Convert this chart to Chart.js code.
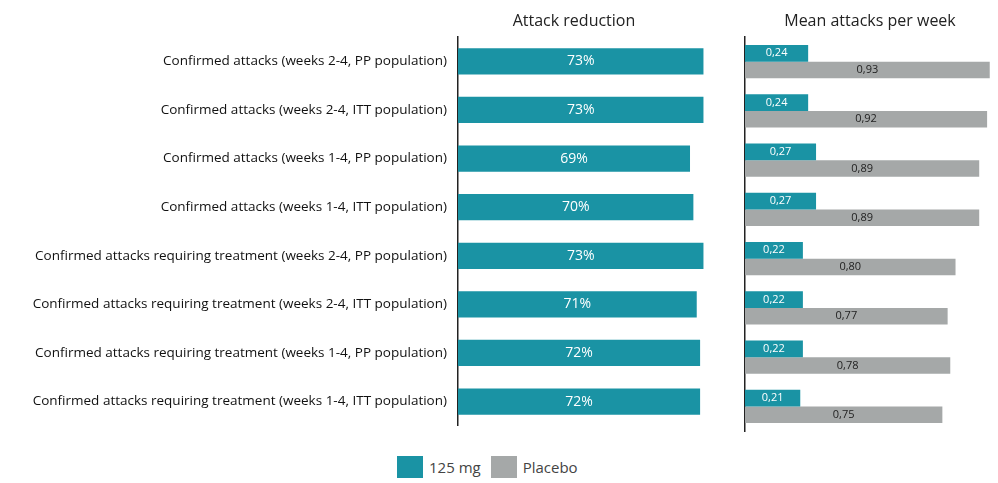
<!DOCTYPE html>
<html>
<head>
<meta charset="utf-8">
<script src="https://cdn.jsdelivr.net/npm/chart.js@4.4.1/dist/chart.umd.min.js"></script>
<style>
  body { margin: 0; background: #fff; width: 998px; height: 483px; position: relative; overflow: hidden; font-family: "Open Sans", sans-serif; }
  #leftWrap { position: absolute; left: 0; top: 0; width: 727px; height: 437px; }
  #rightWrap { position: absolute; left: 735px; top: 0; width: 260px; height: 437px; }
  .panelTitle { position: absolute; top: 9px; font-size: 16px; color: #222; text-align: center; width: 260px; }
  #legend { position: absolute; left: 397px; top: 456px; display: flex; align-items: center; font-size: 15px; color: #444; }
  #legend span.box { display: inline-block; width: 26px; height: 22px; margin-right: 6px; }
  #legend span.txt { margin-right: 10px; }
</style>
</head>
<body>
<div id="leftWrap"><canvas id="reductionChart"></canvas></div>
<div id="rightWrap"><canvas id="attacksChart"></canvas></div>
<div class="panelTitle" style="left: 444px;">Attack reduction</div>
<div class="panelTitle" style="left: 740px;">Mean attacks per week</div>
<div id="legend"></div>
<script>
document.addEventListener("DOMContentLoaded", function() {
  var categories = [
    "Confirmed attacks (weeks 2-4, PP population)",
    "Confirmed attacks (weeks 2-4, ITT population)",
    "Confirmed attacks (weeks 1-4, PP population)",
    "Confirmed attacks (weeks 1-4, ITT population)",
    "Confirmed attacks requiring treatment (weeks 2-4, PP population)",
    "Confirmed attacks requiring treatment (weeks 2-4, ITT population)",
    "Confirmed attacks requiring treatment (weeks 1-4, PP population)",
    "Confirmed attacks requiring treatment (weeks 1-4, ITT population)"
  ];
  var reduction = [73, 73, 69, 70, 73, 71, 72, 72];
  var attacks_125mg = [0.24, 0.24, 0.27, 0.27, 0.22, 0.22, 0.22, 0.21];
  var attacks_placebo = [0.93, 0.92, 0.89, 0.89, 0.80, 0.77, 0.78, 0.75];

  var teal = '#1a93a4';
  var grey = '#a5a8a8';

  // draws the value inside each bar
  var barLabels = {
    id: 'barLabels',
    afterDatasetsDraw: function(chart, args, opts) {
      var c = chart.ctx;
      chart.data.datasets.forEach(function(ds, i) {
        var meta = chart.getDatasetMeta(i);
        meta.data.forEach(function(bar, j) {
          var cfg = opts.styles[i];
          c.save();
          c.font = cfg.font;
          c.fillStyle = cfg.color;
          c.textAlign = 'center';
          c.textBaseline = 'middle';
          c.fillText(cfg.format(ds.data[j]), (bar.x + bar.base) / 2, bar.y);
          c.restore();
        });
      });
    }
  };

  var pad = { top: 37, bottom: 6, right: 0, left: 0 };

  new Chart(document.getElementById('reductionChart'), {
    type: 'bar',
    data: {
      labels: categories,
      datasets: [{
        label: 'Attack reduction',
        data: reduction,
        backgroundColor: teal,
        barPercentage: 0.54,
        categoryPercentage: 1
      }]
    },
    options: {
      indexAxis: 'y',
      responsive: true,
      maintainAspectRatio: false,
      animation: false,
      layout: { padding: pad },
      scales: {
        x: { display: false, min: 0, max: 80 },
        y: {
          grid: { display: false },
          border: { display: true, color: '#222', width: 1.5 },
          ticks: { color: '#111', padding: 3, font: { family: 'Open Sans', size: 13.5 } },
          afterFit: function(scale) { scale.width = 458; }
        }
      },
      plugins: {
        legend: { display: false },
        tooltip: { enabled: false },
        barLabels: { styles: [{ font: '14px "Open Sans"', color: '#fff', format: function(v) { return v + '%'; } }] }
      }
    },
    plugins: [barLabels]
  });

  var fmt = function(v) { return v.toFixed(2).replace('.', ','); };

  var attacksChart = new Chart(document.getElementById('attacksChart'), {
    type: 'bar',
    data: {
      labels: categories,
      datasets: [
        { label: '125 mg', data: attacks_125mg, backgroundColor: teal, barPercentage: 1, categoryPercentage: 0.68 },
        { label: 'Placebo', data: attacks_placebo, backgroundColor: grey, barPercentage: 1, categoryPercentage: 0.68 }
      ]
    },
    options: {
      indexAxis: 'y',
      responsive: true,
      maintainAspectRatio: false,
      animation: false,
      layout: { padding: pad },
      scales: {
        x: { display: false, min: 0, max: 0.95 },
        y: {
          grid: { display: false },
          border: { display: true, color: '#222', width: 1.5 },
          ticks: { display: false },
          afterFit: function(scale) { scale.width = 10; }
        }
      },
      plugins: {
        legend: { display: false },
        tooltip: { enabled: false },
        barLabels: { styles: [
          { font: '11px "Open Sans"', color: '#fff', format: fmt },
          { font: '11px "Open Sans"', color: '#222', format: fmt }
        ] }
      }
    },
    plugins: [barLabels]
  });

  // legend shared by both panels
  var legend = document.getElementById('legend');
  attacksChart.data.datasets.forEach(function(ds) {
    var box = document.createElement('span');
    box.className = 'box';
    box.style.background = ds.backgroundColor;
    var txt = document.createElement('span');
    txt.className = 'txt';
    txt.textContent = ds.label;
    legend.appendChild(box);
    legend.appendChild(txt);
  });
});
</script>
</body>
</html>
